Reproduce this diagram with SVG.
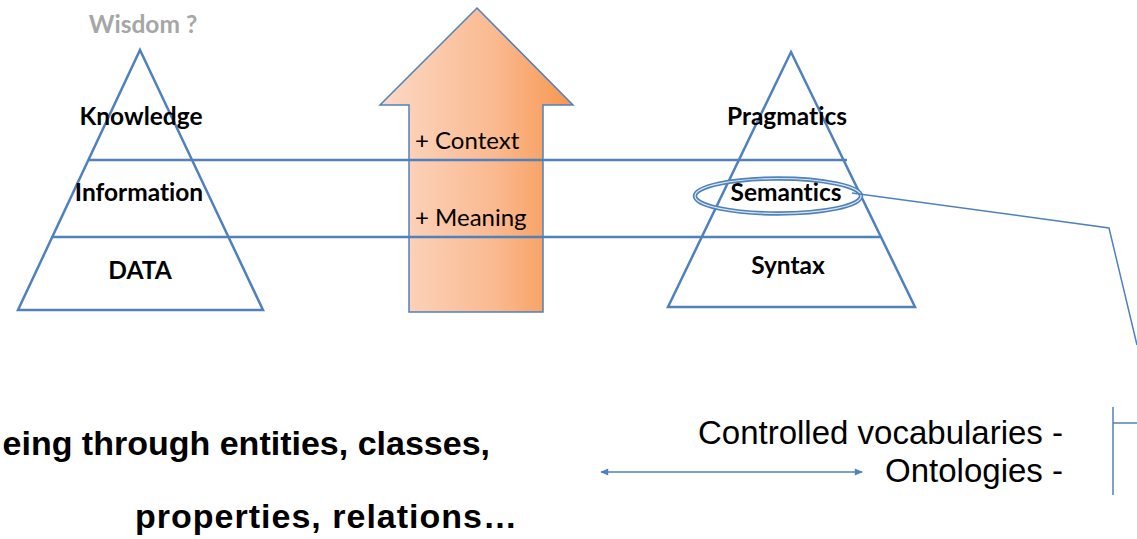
<svg xmlns="http://www.w3.org/2000/svg" width="1137" height="539" viewBox="0 0 1137 539">
  <style>
    .frame { fill: none; stroke: #4F81BD; stroke-width: 2.5; stroke-linejoin: miter; }
    .thin { fill: none; stroke: #4F81BD; stroke-width: 1.5; }
    .lvl { font-family: Lato, "Open Sans", sans-serif; font-weight: bold; font-size: 24.5px; fill: #000; text-anchor: middle; font-variant-ligatures: none; }
    .plus { font-family: Lato, "Open Sans", sans-serif; font-size: 24px; fill: #000; font-variant-ligatures: none; }
    .big { font-family: "Liberation Sans", Arial, sans-serif; font-weight: bold; font-size: 34px; fill: #000; }
    .side { font-family: "Liberation Sans", Arial, sans-serif; font-size: 33px; fill: #000; text-anchor: end; }
  </style>
  <defs>
    <linearGradient id="orange" x1="0" y1="0" x2="1" y2="0">
      <stop offset="0" stop-color="#FCD9C6"/>
      <stop offset="0.6" stop-color="#FAB98F"/>
      <stop offset="1" stop-color="#F7964E"/>
    </linearGradient>
    <marker id="tip" viewBox="0 0 10 10" refX="9" refY="5" markerWidth="9" markerHeight="8" orient="auto-start-reverse" markerUnits="userSpaceOnUse">
      <path d="M0,0.5 L10,5 L0,9.5 z" fill="#4F81BD"/>
    </marker>
  </defs>

  <!-- DIKW pyramid -->
  <g id="dikw">
    <polygon class="frame" points="140,50 263,310 18,310"/>
    <text x="143" y="33" class="lvl" style="fill:#A6A6A6">Wisdom ?</text>
    <text x="141" y="125" class="lvl">Knowledge</text>
    <text x="139" y="201" class="lvl">Information</text>
    <text x="140" y="279" class="lvl">DATA</text>
  </g>

  <!-- upward arrow -->
  <g id="arrow">
    <polygon points="477,8 573,105 543,105 543,312 409,312 409,105 380,105" fill="url(#orange)" stroke="#4F81BD" stroke-width="1.5"/>
    <text x="415" y="149" class="plus">+ Context</text>
    <text x="415" y="226" class="plus">+ Meaning</text>
  </g>

  <!-- semiotic pyramid -->
  <g id="semiotic">
    <polygon class="frame" points="791,52 915,307 668,307"/>
    <text x="787" y="125" class="lvl">Pragmatics</text>
    <text x="786" y="201" class="lvl">Semantics</text>
    <text x="788" y="274" class="lvl">Syntax</text>
    <ellipse cx="778" cy="196" rx="83" ry="17.5" fill="none" stroke="#4F81BD" stroke-width="4.5"/>
    <ellipse cx="778" cy="196" rx="83" ry="17.5" fill="none" stroke="#DCE6F2" stroke-width="1.2"/>
  </g>

  <!-- connectors -->
  <g id="connectors">
    <line class="frame" x1="88" y1="160" x2="847" y2="160"/>
    <line class="frame" x1="52" y1="237" x2="880" y2="237"/>
    <polyline class="thin" points="852,193 1109,228 1137,345"/>
    <line class="thin" x1="1113" y1="407" x2="1113" y2="495"/>
    <line class="thin" x1="1113" y1="423" x2="1137" y2="423"/>
    <line class="thin" x1="601" y1="472" x2="862" y2="472" marker-start="url(#tip)" marker-end="url(#tip)"/>
  </g>

  <!-- captions -->
  <g id="captions">
    <text x="490" y="455" class="big" text-anchor="end">eing through entities, classes,</text>
    <text x="135" y="528" class="big" textLength="382" lengthAdjust="spacing">properties, relations…</text>
    <text x="1063" y="444" class="side">Controlled vocabularies -</text>
    <text x="1063" y="482" class="side">Ontologies -</text>
  </g>
</svg>
